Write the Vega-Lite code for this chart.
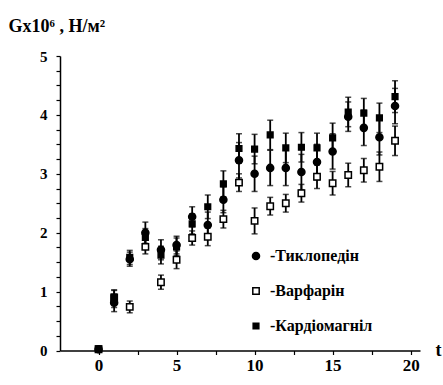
{
  "$schema": "https://vega.github.io/schema/vega-lite/v6.json",
  "autosize": "none",
  "width": 360,
  "height": 294.5,
  "padding": {"left": 60, "top": 56, "right": 23, "bottom": 34.5},
  "background": "white",
  "config": {
    "view": {"stroke": null},
    "font": "Liberation Serif"
  },
  "data": {
    "values": [
      {"t": 0, "s": "Тиклопедін", "v": 0.02, "e": 0.02},
      {"t": 1, "s": "Тиклопедін", "v": 0.81, "e": 0.15},
      {"t": 2, "s": "Тиклопедін", "v": 1.55, "e": 0.12},
      {"t": 3, "s": "Тиклопедін", "v": 2.0, "e": 0.18},
      {"t": 4, "s": "Тиклопедін", "v": 1.71, "e": 0.17},
      {"t": 5, "s": "Тиклопедін", "v": 1.79, "e": 0.15},
      {"t": 6, "s": "Тиклопедін", "v": 2.27, "e": 0.17},
      {"t": 7, "s": "Тиклопедін", "v": 2.13, "e": 0.22},
      {"t": 8, "s": "Тиклопедін", "v": 2.56, "e": 0.22},
      {"t": 9, "s": "Тиклопедін", "v": 3.23, "e": 0.3},
      {"t": 10, "s": "Тиклопедін", "v": 3.0, "e": 0.3},
      {"t": 11, "s": "Тиклопедін", "v": 3.1, "e": 0.3},
      {"t": 12, "s": "Тиклопедін", "v": 3.1, "e": 0.3},
      {"t": 13, "s": "Тиклопедін", "v": 3.03, "e": 0.3},
      {"t": 14, "s": "Тиклопедін", "v": 3.2, "e": 0.3},
      {"t": 15, "s": "Тиклопедін", "v": 3.38, "e": 0.3},
      {"t": 16, "s": "Тиклопедін", "v": 3.97, "e": 0.25},
      {"t": 17, "s": "Тиклопедін", "v": 3.78, "e": 0.3},
      {"t": 18, "s": "Тиклопедін", "v": 3.62, "e": 0.3},
      {"t": 19, "s": "Тиклопедін", "v": 4.15, "e": 0.3},
      {"t": 0, "s": "Варфарін", "v": 0.02, "e": 0.02},
      {"t": 1, "s": "Варфарін", "v": 0.9, "e": 0.12},
      {"t": 2, "s": "Варфарін", "v": 0.74, "e": 0.1},
      {"t": 3, "s": "Варфарін", "v": 1.76, "e": 0.12},
      {"t": 4, "s": "Варфарін", "v": 1.16, "e": 0.12},
      {"t": 5, "s": "Варфарін", "v": 1.54, "e": 0.15},
      {"t": 6, "s": "Варфарін", "v": 1.91, "e": 0.12},
      {"t": 7, "s": "Варфарін", "v": 1.93, "e": 0.15},
      {"t": 8, "s": "Варфарін", "v": 2.23, "e": 0.15},
      {"t": 9, "s": "Варфарін", "v": 2.85, "e": 0.15},
      {"t": 10, "s": "Варфарін", "v": 2.2, "e": 0.22},
      {"t": 11, "s": "Варфарін", "v": 2.45, "e": 0.15},
      {"t": 12, "s": "Варфарін", "v": 2.5, "e": 0.15},
      {"t": 13, "s": "Варфарін", "v": 2.67, "e": 0.15},
      {"t": 14, "s": "Варфарін", "v": 2.95, "e": 0.2},
      {"t": 15, "s": "Варфарін", "v": 2.84, "e": 0.2},
      {"t": 16, "s": "Варфарін", "v": 2.98, "e": 0.2},
      {"t": 17, "s": "Варфарін", "v": 3.06, "e": 0.2},
      {"t": 18, "s": "Варфарін", "v": 3.12, "e": 0.25},
      {"t": 19, "s": "Варфарін", "v": 3.56, "e": 0.25},
      {"t": 0, "s": "Кардіомагніл", "v": 0.03, "e": 0.02},
      {"t": 1, "s": "Кардіомагніл", "v": 0.88, "e": 0.15},
      {"t": 2, "s": "Кардіомагніл", "v": 1.58, "e": 0.12},
      {"t": 3, "s": "Кардіомагніл", "v": 1.92, "e": 0.15},
      {"t": 4, "s": "Кардіомагніл", "v": 1.62, "e": 0.15},
      {"t": 5, "s": "Кардіомагніл", "v": 1.76, "e": 0.15},
      {"t": 6, "s": "Кардіомагніл", "v": 2.15, "e": 0.17},
      {"t": 7, "s": "Кардіомагніл", "v": 2.44, "e": 0.2},
      {"t": 8, "s": "Кардіомагніл", "v": 2.83, "e": 0.22},
      {"t": 9, "s": "Кардіомагніл", "v": 3.43, "e": 0.25},
      {"t": 10, "s": "Кардіомагніл", "v": 3.42, "e": 0.25},
      {"t": 11, "s": "Кардіомагніл", "v": 3.66, "e": 0.25},
      {"t": 12, "s": "Кардіомагніл", "v": 3.44, "e": 0.25},
      {"t": 13, "s": "Кардіомагніл", "v": 3.45, "e": 0.25},
      {"t": 14, "s": "Кардіомагніл", "v": 3.44, "e": 0.25},
      {"t": 15, "s": "Кардіомагніл", "v": 3.61, "e": 0.25},
      {"t": 16, "s": "Кардіомагніл", "v": 4.05, "e": 0.25},
      {"t": 17, "s": "Кардіомагніл", "v": 4.03, "e": 0.25},
      {"t": 18, "s": "Кардіомагніл", "v": 3.95, "e": 0.25},
      {"t": 19, "s": "Кардіомагніл", "v": 4.31, "e": 0.27}
    ]
  },
  "encoding": {
    "x": {
      "field": "t", "type": "quantitative",
      "scale": {"domain": [-2.47, 20.6], "nice": false, "zero": false},
      "axis": {
        "values": [0, 2.5, 5, 7.5, 10, 12.5, 15, 17.5, 20],
        "format": "d",
        "labelExpr": "datum.value % 5 === 0 ? datum.label : ''",
        "grid": false,
        "domainColor": "black", "domainWidth": 1.5,
        "tickColor": "black", "tickSize": 4, "tickWidth": 1.2,
        "labelColor": "black", "labelFont": "Liberation Serif", "labelFontWeight": "bold", "labelFontSize": 17, "labelPadding": 3,
        "title": "t", "titleFont": "Liberation Serif", "titleFontWeight": "bold", "titleFontSize": 18, "titleColor": "black",
        "titleX": 375, "titleY": 0, "titleAlign": "left", "titleBaseline": "middle", "titleAngle": 0
      }
    },
    "y": {
      "field": "v", "type": "quantitative",
      "scale": {"domain": [0, 5], "nice": false},
      "axis": {
        "values": [0, 0.25, 0.5, 0.75, 1, 1.25, 1.5, 1.75, 2, 2.25, 2.5, 2.75, 3, 3.25, 3.5, 3.75, 4, 4.25, 4.5, 4.75, 5],
        "format": ".2f",
        "labelExpr": "datum.value % 1 === 0 ? format(datum.value, 'd') : ''",
        "grid": false,
        "domainColor": "black", "domainWidth": 1.5,
        "tickColor": "black", "tickSize": 4, "tickWidth": 1.2,
        "labelColor": "black", "labelFont": "Liberation Serif", "labelFontWeight": "bold", "labelFontSize": 15, "labelPadding": 9,
        "title": "Gx10⁶ , Н/м²", "titleFont": "Liberation Serif", "titleFontWeight": "bold", "titleFontSize": 18, "titleColor": "black",
        "titleAngle": 0, "titleX": -52, "titleY": -30, "titleAlign": "left", "titleBaseline": "middle"
      }
    }
  },
  "layer": [
    {
      "mark": {"type": "errorbar", "ticks": {"size": 6, "thickness": 1.5, "color": "black"}, "rule": {"strokeWidth": 1.8, "color": "black"}},
      "encoding": {
        "yError": {"field": "e"},
        "detail": {"field": "s"}
      }
    },
    {
      "mark": {"type": "point", "stroke": "black", "strokeWidth": 1.5, "opacity": 1},
      "encoding": {
        "shape": {
          "field": "s", "type": "nominal",
          "scale": {"domain": ["Тиклопедін", "Варфарін", "Кардіомагніл"], "range": ["circle", "square", "square"]},
          "legend": {
            "orient": "none", "legendX": 188, "legendY": 192, "title": null,
            "labelExpr": "'-' + datum.label",
            "labelFont": "Liberation Serif", "labelFontWeight": "bold", "labelFontSize": 16, "labelColor": "black",
            "rowPadding": 19, "symbolStrokeColor": "black", "symbolStrokeWidth": 1.5, "labelOffset": 6
          }
        },
        "fill": {
          "field": "s", "type": "nominal",
          "scale": {"domain": ["Тиклопедін", "Варфарін", "Кардіомагніл"], "range": ["black", "white", "black"]}
        },
        "size": {
          "field": "s", "type": "nominal",
          "scale": {"domain": ["Тиклопедін", "Варфарін", "Кардіомагніл"], "range": [50, 32, 14]}
        }
      }
    }
  ]
}
